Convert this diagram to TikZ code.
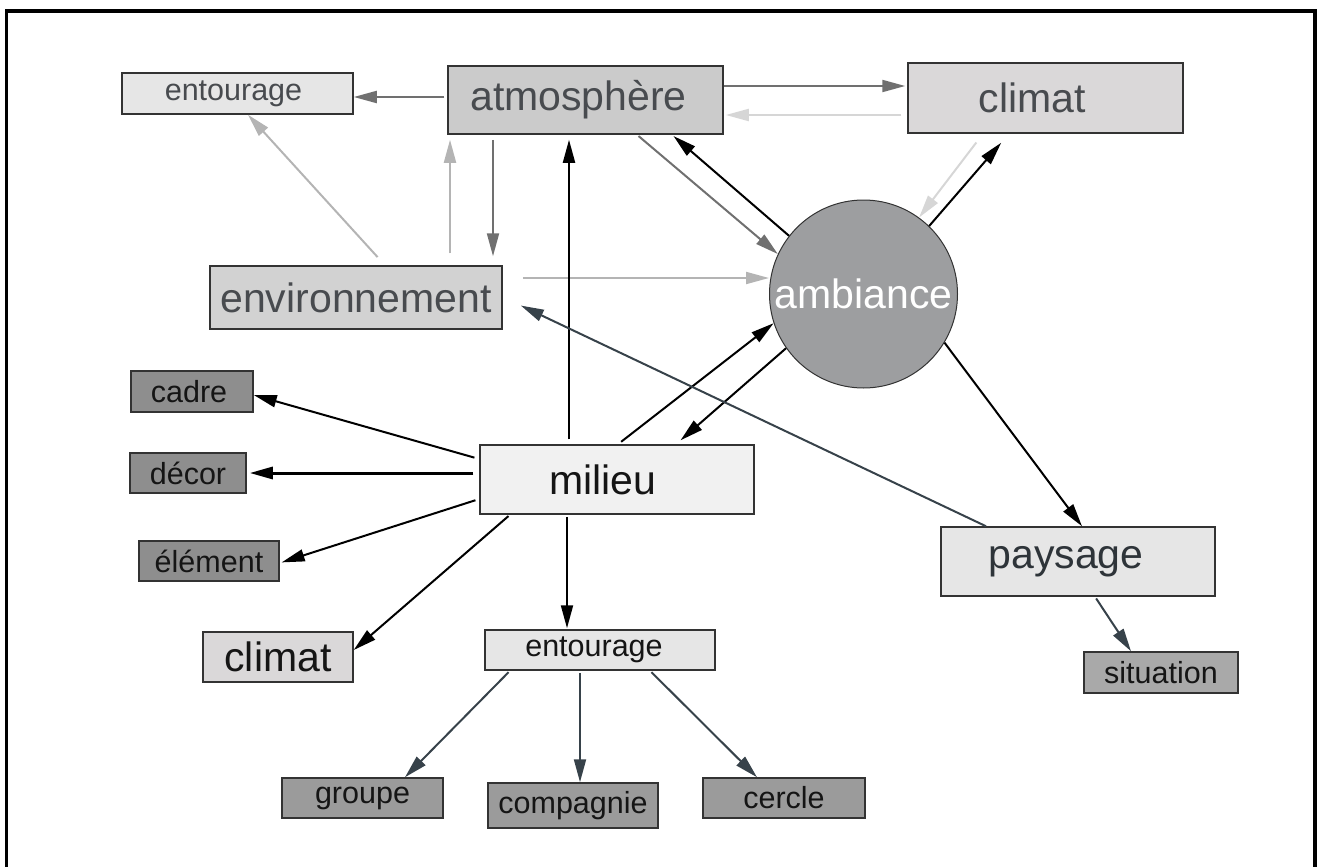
\documentclass[tikz,border=0pt]{standalone}
\usepackage{fontspec}
\setmainfont{Liberation Sans}
\usetikzlibrary{arrows.meta}

\definecolor{boxlight}{HTML}{E6E6E6}
\definecolor{boxatm}{HTML}{CBCBCB}
\definecolor{boxclim}{HTML}{DAD8D9}
\definecolor{boxenv}{HTML}{D2D2D2}
\definecolor{boxmil}{HTML}{F1F1F1}
\definecolor{boxdark}{HTML}{8E8E8E}
\definecolor{boxmid}{HTML}{9B9B9B}
\definecolor{boxsit}{HTML}{A9A9A9}
\definecolor{ambfill}{HTML}{9D9EA0}
\definecolor{txtgray}{HTML}{484B4F}
\definecolor{txtdark}{HTML}{151515}
\definecolor{txtslate}{HTML}{2E3439}
\definecolor{arrmid}{HTML}{707070}
\definecolor{arrlight}{HTML}{B4B4B4}
\definecolor{arrpale}{HTML}{D6D6D6}
\definecolor{arrslate}{HTML}{37424A}

\begin{document}
\begin{tikzpicture}[x=1pt,y=-1pt,
  box/.style={draw=black!80,line width=1.5pt,inner sep=0pt},
  big/.style={font=\fontsize{41}{48}\selectfont},
  small/.style={font=\fontsize{30.5}{36}\selectfont},
  arr/.style={line width=2pt,-{Triangle[length=23pt,width=12pt]}},
  blackarr/.style={arr,draw=black},
  midarr/.style={arr,draw=arrmid},
  lightarr/.style={arr,draw=arrlight},
  palearr/.style={arr,draw=arrpale},
  slatearr/.style={arr,draw=arrslate}]
\useasboundingbox (0,0) rectangle (1317,867);
\draw[line width=3.3pt] (6.7,867) -- (6.7,11) -- (1315,11) -- (1315,867);

\node[box,small,fill=boxlight,text=txtgray,minimum width=231pt,minimum height=41pt] (entourageA) at (237.5,93.5) {\hspace*{-8pt}entourage};
\node[box,big,fill=boxatm,text=txtgray,minimum width=275pt,minimum height=68pt] (atmos) at (585.5,100) {\hspace*{-14pt}atmosphère};
\node[box,big,fill=boxclim,text=txtgray,minimum width=275pt,minimum height=70pt] (climatA) at (1045.5,98) {\hspace*{-26pt}climat};
\node[box,big,fill=boxenv,text=txtgray,minimum width=292pt,minimum height=63pt] (environ) at (356,297.5) {environnement};
\node[circle,draw=black!80,line width=1pt,inner sep=0pt,minimum size=188pt,fill=ambfill,text=white,big] (ambiance) at (863.5,294) {ambiance};
\node[box,small,fill=boxdark,text=txtdark,minimum width=122pt,minimum height=41pt] (cadre) at (192,391.5) {\hspace*{-6pt}cadre};
\node[box,small,fill=boxdark,text=txtdark,minimum width=116pt,minimum height=40pt] (decor) at (188,473) {décor};
\node[box,small,fill=boxdark,text=txtdark,minimum width=140pt,minimum height=40pt] (element) at (209,561) {élément};
\node[box,big,fill=boxclim,text=txtdark,minimum width=150pt,minimum height=50pt] (climatB) at (278,657) {climat};
\node[box,big,fill=boxmil,text=txtdark,minimum width=274pt,minimum height=69pt] (milieu) at (617,479.5) {\hspace*{-28pt}milieu};
\node[box,small,fill=boxlight,text=txtdark,minimum width=230pt,minimum height=40pt] (entourageB) at (600,650) {\hspace*{-12pt}entourage};
\node[box,big,fill=boxlight,text=txtslate,minimum width=274pt,minimum height=69pt] (paysage) at (1078,561.5) {\hspace*{-24pt}paysage};
\node[box,small,fill=boxsit,text=txtdark,minimum width=154pt,minimum height=41pt] (situation) at (1161,672.5) {situation};
\node[box,small,fill=boxmid,text=txtdark,minimum width=161pt,minimum height=40pt] (groupe) at (362.5,798) {groupe};
\node[box,small,fill=boxmid,text=txtdark,minimum width=170pt,minimum height=45pt] (compagnie) at (573,805.5) {compagnie};
\node[box,small,fill=boxmid,text=txtdark,minimum width=162pt,minimum height=40pt] (cercle) at (784,798) {cercle};

\draw[midarr,shorten <=3pt] (atmos.west |- 0,97) -- (entourageA.east |- 0,97);
\draw[midarr,shorten >=2pt] (atmos.east |- 0,86) -- (climatA.west |- 0,86);
\draw[midarr,shorten <=5pt,shorten >=9pt] (493,0 |- atmos.south) -- (493,0 |- environ.north);
\draw[midarr,shorten <=2pt] (637,0 |- atmos.south) -- (ambiance.155);
\draw[lightarr,shorten <=11pt] (385,0 |- environ.north) -- (248,0 |- entourageA.south);
\draw[lightarr,shorten <=12pt,shorten >=5pt] (450,0 |- environ.north) -- (450,0 |- atmos.south);
\draw[lightarr,shorten <=20pt] (environ.east |- 0,278) -- (ambiance.west |- 0,278);
\draw[palearr,shorten <=6pt,shorten >=2pt] (climatA.west |- 0,115) -- (atmos.east |- 0,115);
\draw[palearr,shorten <=11pt] (983,0 |- climatA.south) -- (ambiance.54);
\draw[blackarr,shorten <=5pt,shorten >=5pt] (569,0 |- milieu.north) -- (569,0 |- atmos.south);
\draw[blackarr,shorten >=2pt] (ambiance.142) -- (672,0 |- atmos.south);
\draw[blackarr,shorten >=12pt] (ambiance.46) -- (1009,0 |- climatA.south);
\draw[blackarr,shorten <=4pt] (618,0 |- milieu.north) -- (ambiance.198);
\draw[blackarr,shorten >=6pt] (ambiance.215) -- (676,0 |- milieu.north);
\draw[blackarr] (ambiance.329) -- (1082,0 |- paysage.north);
\draw[blackarr,shorten <=5pt] (milieu.west |- 0,459) -- (cadre.east |- 0,395);
\draw[blackarr,line width=3pt,shorten <=6pt,shorten >=3pt] (milieu.west |- 0,473) -- (decor.east |- 0,473);
\draw[blackarr,shorten <=4pt,shorten >=2pt] (milieu.west |- 0,499) -- (element.east |- 0,563);
\draw[blackarr,shorten <=2pt] (510,0 |- milieu.south) -- (climatB.east |- 0,650);
\draw[blackarr,shorten <=2pt,shorten >=1pt] (567,0 |- milieu.south) -- (567,0 |- entourageB.north);
\draw[slatearr,shorten >=20pt] (986,0 |- paysage.north) -- (environ.east |- 0,297);
\draw[slatearr,shorten <=2pt] (1095,0 |- paysage.south) -- (1131,0 |- situation.north);
\draw[slatearr,shorten <=2pt] (510,0 |- entourageB.south) -- (405,0 |- groupe.north);
\draw[slatearr,shorten <=2pt] (580,0 |- entourageB.south) -- (580,0 |- compagnie.north);
\draw[slatearr,shorten <=2pt] (650,0 |- entourageB.south) -- (757,0 |- cercle.north);
\end{tikzpicture}
\end{document}
